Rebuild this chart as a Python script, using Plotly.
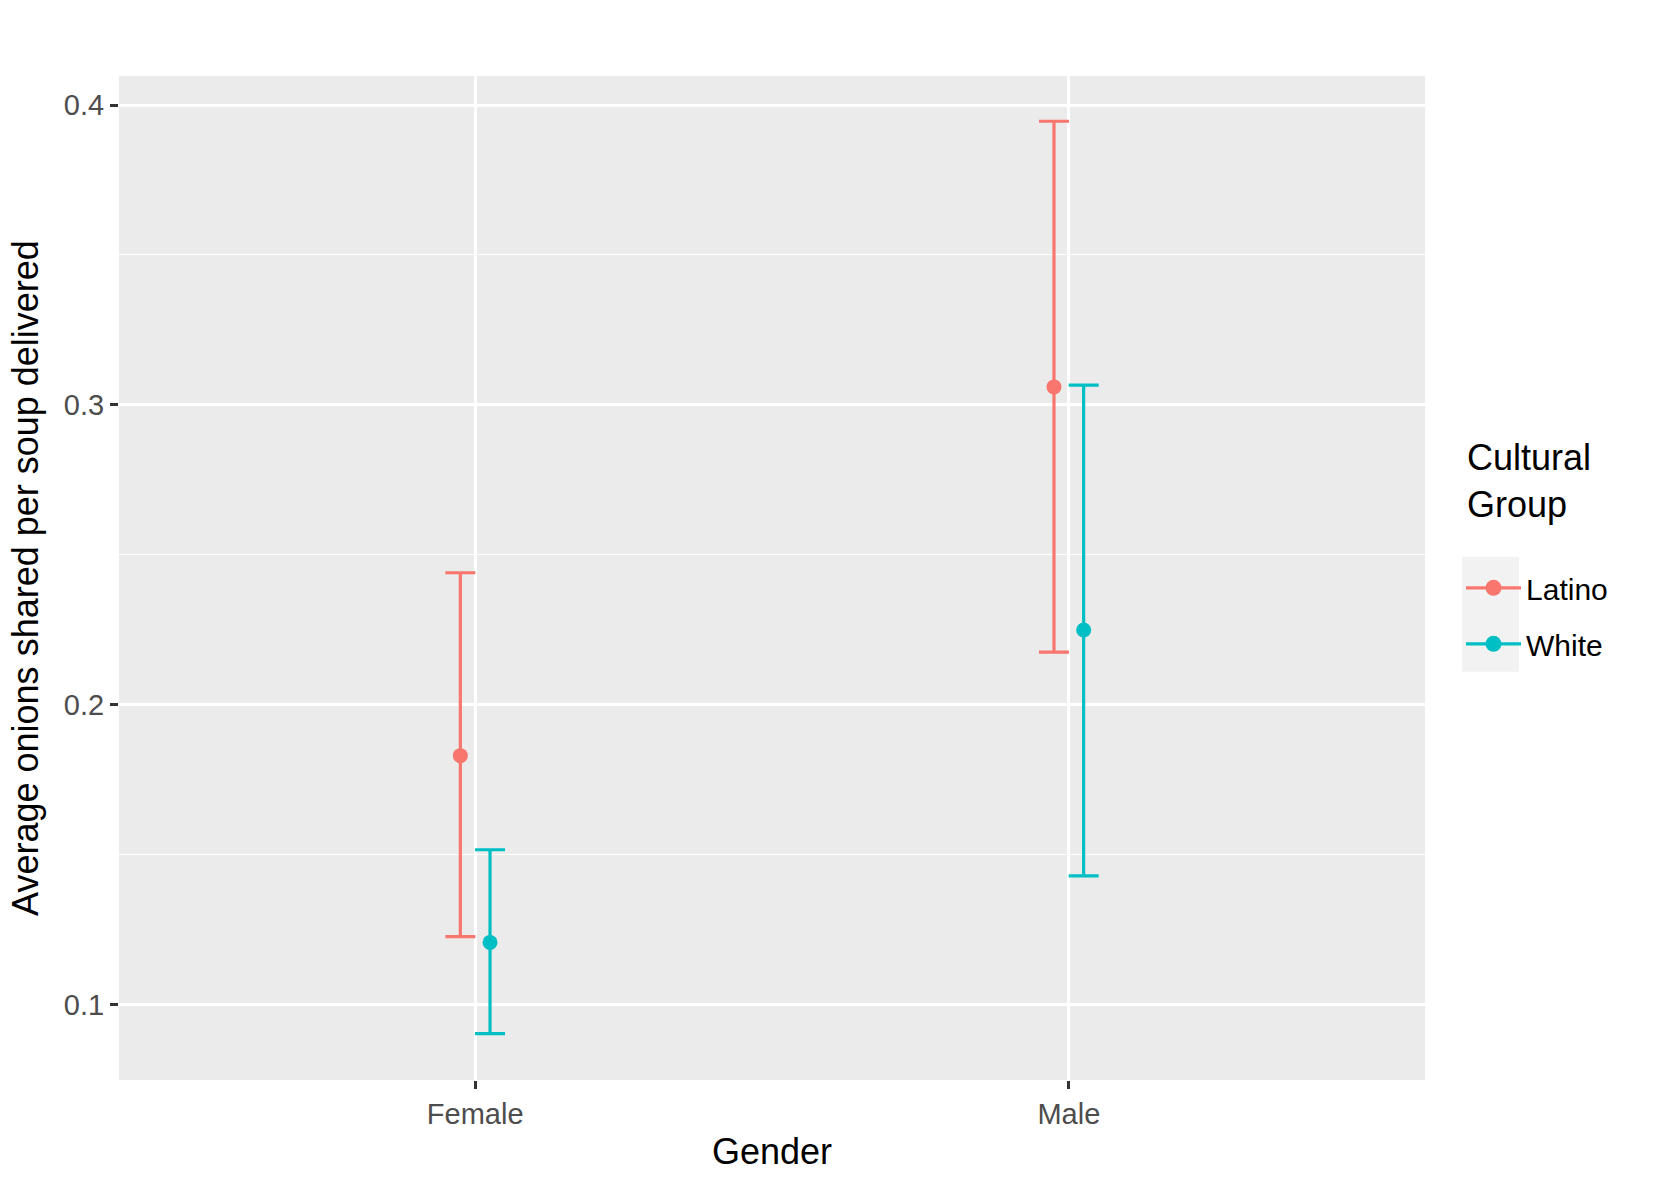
import plotly.graph_objects as go

genders = ["Female", "Male"]
groups = ["Latino", "White"]
means = {"Latino": [0.183, 0.306], "White": [0.1207, 0.2249]}
upper = {"Latino": [0.2440, 0.3946], "White": [0.1516, 0.3066]}
lower = {"Latino": [0.1226, 0.2175], "White": [0.0903, 0.1429]}
colors = {"Latino": "#F8766D", "White": "#00BFC4"}

L, R, T, B = 119.3, 1425.0, 76.0, 1080.3
W, H = 1661, 1186
PW, PH = R - L, B - T

dodge = 0.05
fig = go.Figure()
for gi, g in enumerate(groups):
    off = (gi - (len(groups) - 1) / 2) * dodge
    xs = [i + 1 + off for i in range(len(genders))]
    fig.add_trace(go.Scatter(
        x=xs, y=means[g], mode="markers", showlegend=False,
        marker=dict(color=colors[g], size=15),
        error_y=dict(type="data", symmetric=False,
                     array=[u - m for u, m in zip(upper[g], means[g])],
                     arrayminus=[m - l for m, l in zip(means[g], lower[g])],
                     color=colors[g], thickness=3.2, width=15),
    ))
    fig.add_trace(go.Scatter(
        x=[None], y=[None], mode="lines+markers", name=g, legendgroup=g,
        marker=dict(color=colors[g], size=16),
        line=dict(color=colors[g], width=3.2),
    ))

fig.update_layout(
    width=W, height=H,
    margin=dict(l=L, r=W - R, t=T, b=H - B, autoexpand=False),
    paper_bgcolor="white", plot_bgcolor="#EBEBEB",
    font=dict(family="Liberation Sans, Arial, sans-serif", color="black"),
    legend=dict(
        font=dict(size=30, color="black"),
        x=(1461 - L) / PW, xanchor="left", y=(B - 562) / PH, yanchor="top",
        bgcolor="rgba(0,0,0,0)", itemwidth=55, tracegroupgap=14,
    ),
    annotations=[dict(text="Cultural<br>Group", xref="paper", yref="paper",
                      x=(1465 - L) / PW, y=(B - 435) / PH, xanchor="left", yanchor="top",
                      showarrow=False, align="left",
                      font=dict(size=36, color="black"))],
    shapes=[dict(type="rect", xref="paper", yref="paper",
                 x0=(1462 - L) / PW, x1=(1519 - L) / PW,
                 y0=(B - 672) / PH, y1=(B - 557) / PH,
                 fillcolor="#F2F2F2", line=dict(width=0), layer="below")],
)
fig.update_xaxes(
    range=[0.4, 2.6], tickvals=[1, 2], ticktext=genders, automargin=False,
    showgrid=True, gridcolor="white", gridwidth=2.5, zeroline=False,
    ticks="outside", ticklen=8, tickwidth=2.5, tickcolor="#333333",
    tickfont=dict(size=29, color="#4D4D4D"),
    title=dict(text="Gender", font=dict(size=36, color="black"), standoff=10),
)
fig.update_yaxes(
    range=[0.0748, 0.4097], tickvals=[0.1, 0.2, 0.3, 0.4], ticktext=["0.1", "0.2", "0.3", "0.4"],
    automargin=False,
    showgrid=True, gridcolor="white", gridwidth=2.5, zeroline=False,
    minor=dict(tickvals=[0.15, 0.25, 0.35], showgrid=True, gridcolor="white", gridwidth=1.2, ticks=""),
    ticks="outside", ticklen=8, tickwidth=2.5, tickcolor="#333333",
    tickfont=dict(size=29, color="#4D4D4D"),
    title=dict(text="Average onions shared per soup delivered", font=dict(size=36, color="black"), standoff=14),
)
fig.write_html("out.html", config={"displayModeBar": False},
               post_script="document.body.style.margin='0';")
